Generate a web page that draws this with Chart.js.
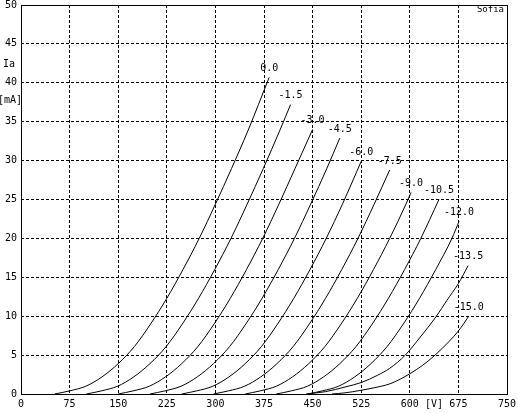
<!DOCTYPE html>
<html>
<head>
<meta charset="utf-8">
<script src="https://cdn.jsdelivr.net/npm/chart.js@4.4.1/dist/chart.umd.min.js"></script>
<style>
  html, body { margin: 0; padding: 0; background: #fff; }
  #wrap { width: 518px; height: 413px; }
</style>
</head>
<body>
<div id="wrap"><canvas id="myChart"></canvas></div>
<script>
// grid voltage of each curve (label text), in the same order as the curves below
const gridVolts = ['0.0', '-1.5', '-3.0', '-4.5', '-6.0', '-7.5', '-9.0', '-10.5', '-12.0', '-13.5', '-15.0'];

// anode voltage [V], anode current [mA]
const curve_0_0  = [[52,0],[75,0.4],[100,1.0],[125,2.2],[150,3.9],[175,6.1],[200,9.0],[225,12.3],[250,16.0],[275,20.0],[300,24.4],[325,29.0],[350,33.8],[383,40.7]];
const curve_1_5  = [[101,0],[124,0.4],[149,1.0],[174,2.2],[199,3.9],[224,6.1],[249,9.0],[274,12.3],[299,16.0],[324,20.0],[349,24.4],[374,29.0],[399,33.8],[416,37.2]];
const curve_3_0  = [[150,0],[173,0.4],[198,1.0],[223,2.2],[248,3.9],[273,6.1],[298,9.0],[323,12.3],[348,16.0],[373,20.0],[398,24.4],[423,29.0],[450,34.0]];
const curve_4_5  = [[199,0],[222,0.4],[247,1.0],[272,2.2],[297,3.9],[322,6.1],[347,9.0],[372,12.3],[397,16.0],[422,20.0],[447,24.4],[472,29.0],[492,32.9]];
const curve_6_0  = [[248,0],[271,0.4],[296,1.0],[321,2.2],[346,3.9],[371,6.1],[396,9.0],[421,12.3],[446,16.0],[471,20.0],[496,24.4],[525,29.9]];
const curve_7_5  = [[297,0],[320,0.4],[345,1.0],[370,2.2],[395,3.9],[420,6.1],[445,9.0],[470,12.3],[495,16.0],[520,20.0],[545,24.4],[569,28.8]];
const curve_9_0  = [[346,0],[369,0.4],[394,1.0],[419,2.2],[444,3.9],[469,6.1],[494,9.0],[519,12.3],[544,16.0],[569,20.0],[594,24.4],[602,25.9]];
const curve_10_5 = [[394,0],[417,0.4],[442,1.0],[467,2.2],[492,3.9],[517,6.1],[542,9.0],[567,12.3],[592,16.0],[617,20.0],[645,25.0]];
const curve_12_0 = [[442,0],[465,0.4],[490,1.0],[515,2.2],[540,3.9],[565,6.1],[590,9.0],[615,12.3],[640,16.0],[665,20.0],[676,22.2]];
const curve_13_5 = [[440,0],[470,0.3],[500,0.9],[526,1.5],[550,2.4],[569,3.3],[593,5.0],[615,7.2],[641,10.0],[657,12.0],[675,14.2],[690,16.5]];
const curve_15_0 = [[480,0],[500,0.15],[523,0.45],[545,0.8],[569,1.3],[585,1.9],[600,2.6],[620,3.7],[639,5.0],[660,6.7],[675,8.1],[691,10.0]];

const curves = [curve_0_0, curve_1_5, curve_3_0, curve_4_5, curve_6_0, curve_7_5,
                curve_9_0, curve_10_5, curve_12_0, curve_13_5, curve_15_0];

const xTicks = [0, 75, 150, 225, 300, 375, 450, 525, 600, 675, 750];
const yTicks = [0, 5, 10, 15, 20, 25, 30, 35, 40, 45, 50];

Chart.defaults.font.family = 'DejaVu Sans Mono';
Chart.defaults.font.size = 10;
Chart.defaults.color = '#000';

// frame, curve labels and the axis texts
const extras = {
    id: 'extras',
    afterDraw(chart) {
        const { ctx, chartArea: a, scales: { x, y } } = chart;
        ctx.save();
        ctx.strokeStyle = '#000';
        ctx.lineWidth = 1;
        ctx.setLineDash([]);
        ctx.strokeRect(Math.round(a.left) + 0.5, Math.round(a.top) + 0.5,
                       Math.round(a.right) - Math.round(a.left), Math.round(a.bottom) - Math.round(a.top));

        ctx.fillStyle = '#000';
        ctx.font = '10px "DejaVu Sans Mono"';
        ctx.textAlign = 'center';
        ctx.textBaseline = 'middle';
        curves.forEach((c, i) => {
            const end = c[c.length - 1];
            ctx.fillText(gridVolts[i], x.getPixelForValue(end[0]), y.getPixelForValue(end[1]) - 9);
        });

        ctx.fillText('[V]', x.getPixelForValue(637.5), a.bottom + 10);
        ctx.fillText('Ia', 9, 64);
        ctx.fillText('[mA]', 10, 100);

        ctx.font = '9px "DejaVu Sans Mono"';
        ctx.textAlign = 'right';
        ctx.fillText('Sofia', a.right - 3, a.top + 5);
        ctx.restore();
    }
};

const ctx = document.getElementById('myChart').getContext('2d');

const myChart = new Chart(ctx, {
    type: 'line',
    data: {
        datasets: curves.map((c, i) => ({
            label: gridVolts[i],
            data: c.map(p => ({ x: p[0], y: p[1] })),
            borderColor: '#000',
            borderWidth: 1,
            pointRadius: 0,
            fill: false,
            cubicInterpolationMode: 'monotone'
        }))
    },
    options: {
        responsive: true,
        maintainAspectRatio: false,
        animation: false,
        layout: { padding: { top: 5, right: 11, left: 0, bottom: 0 } },
        plugins: {
            legend: { display: false },
            tooltip: { enabled: false }
        },
        scales: {
            x: {
                type: 'linear',
                min: 0,
                max: 750,
                afterFit(scale) { scale.height = 19; scale.paddingLeft = 0; scale.paddingRight = 0; },
                afterBuildTicks(scale) { scale.ticks = xTicks.map(v => ({ value: v })); },
                grid: { color: '#000', drawTicks: false },
                border: { display: false, dash: [3, 2] },
                ticks: { padding: 4, maxRotation: 0, autoSkip: false }
            },
            y: {
                min: 0,
                max: 50,
                afterFit(scale) { scale.width = 21; scale.paddingTop = 0; scale.paddingBottom = 0; },
                afterBuildTicks(scale) { scale.ticks = yTicks.map(v => ({ value: v })); },
                grid: { color: '#000', drawTicks: false },
                border: { display: false, dash: [3, 2] },
                ticks: { padding: 4, autoSkip: false }
            }
        }
    },
    plugins: [extras]
});
</script>
</body>
</html>
